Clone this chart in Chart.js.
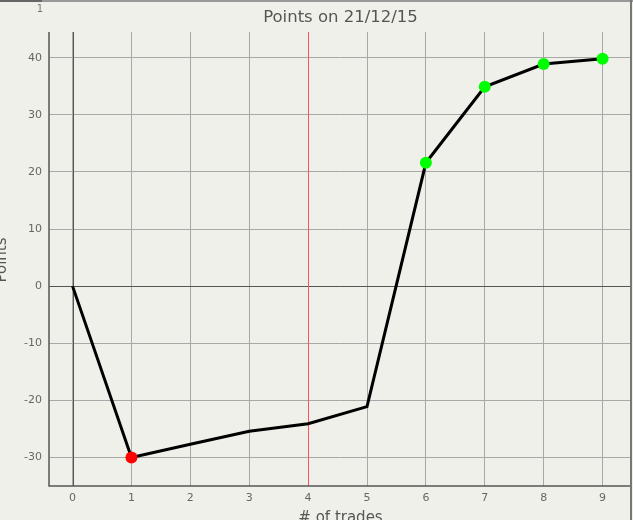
<!DOCTYPE html>
<html>
<head>
<meta charset="utf-8">
<script src="https://cdn.jsdelivr.net/npm/chart.js@4"></script>
<style>
html,body{margin:0;padding:0;background:#f0f0ea;}
#wrap{width:633px;height:520px;position:relative;}
</style>
</head>
<body>
<div id="wrap"><canvas id="c" width="633" height="520"></canvas></div>
<script>
const trades = [0, 1, 2, 3, 4, 5, 6, 7, 8, 9];
const points = [0, -30, -27.7, -25.4, -24.1, -21.1, 21.6, 34.9, 38.9, 39.8];
const pointColors = [null, '#ff0000', null, null, null, null, '#00ff00', '#00ff00', '#00ff00', '#00ff00'];
const xTicks = [0, 1, 2, 3, 4, 5, 6, 7, 8, 9];
const yTicks = [-30, -20, -10, 0, 10, 20, 30, 40];
const markerLine = 4;
const titleText = 'Points on 21/12/15';
const xTitle = '# of trades';
const yTitle = 'Points';
const cornerLabel = '1';

const data = trades.map((t, i) => ({x: t, y: points[i]}));
const FONT = '"DejaVu Sans", Verdana, sans-serif';

const decor = {
  id: 'decor',
  beforeDraw(chart) {
    const ctx = chart.ctx;
    ctx.save();
    ctx.fillStyle = '#f0f0ea';
    ctx.fillRect(0, 0, chart.width, chart.height);
    ctx.restore();
  },
  beforeDatasetsDraw(chart) {
    const ctx = chart.ctx;
    const xs = chart.scales.x, ys = chart.scales.y;
    const ca = chart.chartArea;
    ctx.save();
    ctx.strokeStyle = '#555';
    ctx.lineWidth = 1;
    const x0 = Math.round(xs.getPixelForValue(0)) + 0.5;
    const y0 = Math.round(ys.getPixelForValue(0)) + 0.5;
    ctx.beginPath();
    ctx.moveTo(x0, ca.top); ctx.lineTo(x0, ca.bottom);
    ctx.moveTo(ca.left, y0); ctx.lineTo(ca.right, y0);
    ctx.stroke();
    ctx.strokeStyle = '#ff5060';
    const xr = Math.round(xs.getPixelForValue(markerLine)) + 0.5;
    ctx.beginPath();
    ctx.moveTo(xr, ca.top); ctx.lineTo(xr, ca.bottom);
    ctx.stroke();
    ctx.strokeStyle = '#555';
    ctx.lineWidth = 1.5;
    ctx.beginPath();
    ctx.moveTo(ca.left, ca.top); ctx.lineTo(ca.left, ca.bottom); ctx.lineTo(ca.right, ca.bottom);
    ctx.stroke();
    ctx.restore();
  },
  afterDraw(chart) {
    const ctx = chart.ctx;
    const ca = chart.chartArea;
    const cx = (ca.left + ca.right) / 2;
    ctx.save();
    ctx.fillStyle = '#999';
    ctx.fillRect(0, 0, chart.width, 2);
    ctx.fillStyle = '#666';
    ctx.fillRect(0, 0, 42, 2);
    ctx.fillStyle = '#777';
    ctx.fillRect(630, 0, 2, chart.height);
    ctx.fillStyle = '#555';
    ctx.textAlign = 'center';
    ctx.textBaseline = 'middle';
    ctx.font = '16.5px ' + FONT;
    ctx.fillText(titleText, cx, 18);
    ctx.font = '15px ' + FONT;
    ctx.textBaseline = 'top';
    ctx.fillText(xTitle, cx, 511);
    ctx.save();
    ctx.translate(0, 260);
    ctx.rotate(-Math.PI / 2);
    ctx.textBaseline = 'middle';
    ctx.fillText(yTitle, 0, 2);
    ctx.restore();
    ctx.font = '10px ' + FONT;
    ctx.fillStyle = '#777';
    ctx.textBaseline = 'middle';
    ctx.fillText(cornerLabel, 40, 9);
    ctx.restore();
  }
};

new Chart(document.getElementById('c'), {
  type: 'scatter',
  data: {
    datasets: [{
      data: data,
      showLine: true,
      borderColor: '#000',
      borderWidth: 3,
      pointRadius: pointColors.map(c => c ? 6 : 0),
      pointHoverRadius: pointColors.map(c => c ? 6 : 0),
      pointBackgroundColor: pointColors.map(c => c || '#000'),
      pointBorderColor: pointColors.map(c => c || '#000'),
      pointBorderWidth: 0,
      tension: 0
    }]
  },
  options: {
    responsive: false,
    animation: false,
    events: [],
    layout: {autoPadding: false, padding: {top: 32, right: 1, left: 0, bottom: 0}},
    plugins: {legend: {display: false}, title: {display: false}, tooltip: {enabled: false}},
    scales: {
      x: {
        type: 'linear',
        min: -0.4,
        max: 9.5,
        afterBuildTicks(s) { s.ticks = xTicks.map(v => ({value: v})); },
        afterFit(s) { s.height = 34; s.paddingLeft = 0; s.paddingRight = 0; },
        grid: {color: '#a8a8a8', lineWidth: 1, tickLength: 4, tickColor: 'rgba(0,0,0,0)'},
        border: {display: false},
        ticks: {color: '#666', font: {size: 11, family: FONT}, padding: 2, maxRotation: 0, autoSkip: false}
      },
      y: {
        type: 'linear',
        min: -35,
        max: 44.5,
        afterBuildTicks(s) { s.ticks = yTicks.map(v => ({value: v})); },
        afterFit(s) { s.width = 49; s.paddingTop = 0; s.paddingBottom = 0; },
        grid: {color: '#a8a8a8', lineWidth: 1, tickLength: 4, tickColor: 'rgba(0,0,0,0)'},
        border: {display: false},
        ticks: {color: '#666', font: {size: 11, family: FONT}, padding: 3}
      }
    }
  },
  plugins: [decor]
});
</script>
</body>
</html>
